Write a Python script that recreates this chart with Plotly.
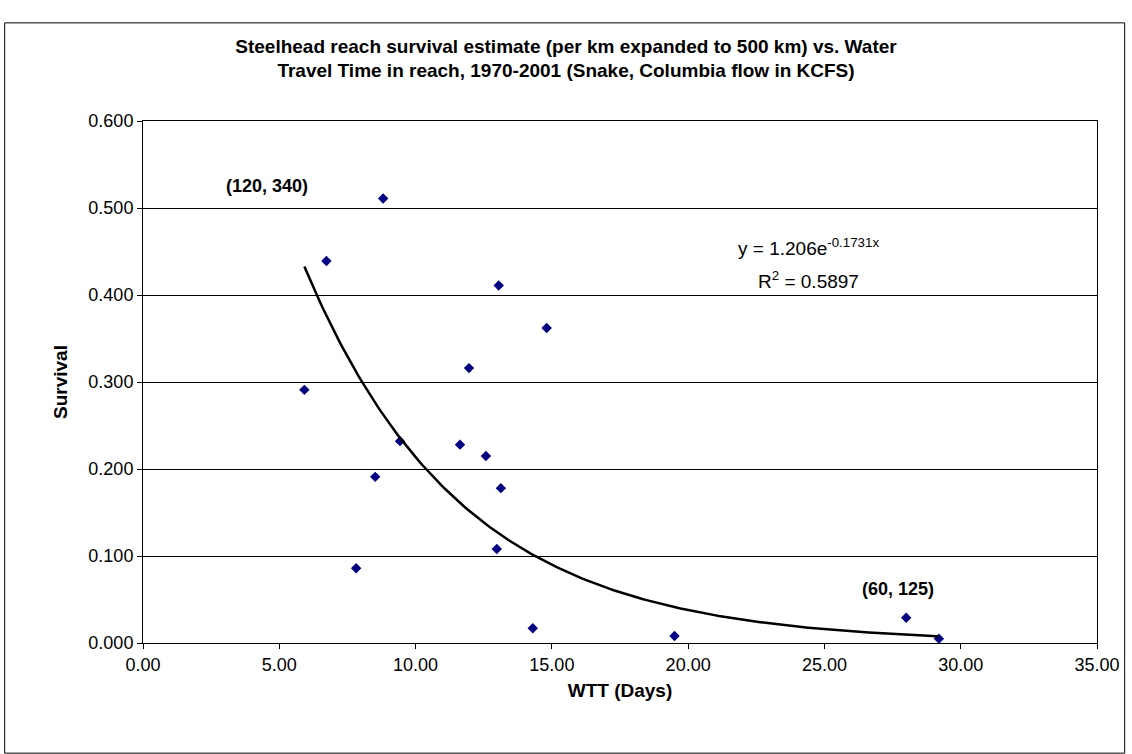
import numpy as np
import plotly.graph_objects as go

# observed points (WTT days, survival)
wtt = [5.92, 6.73, 8.81, 7.82, 8.52, 9.43, 11.63, 11.96, 12.58, 13.05, 13.13, 12.98, 14.81, 14.30, 19.50, 28.00, 29.20]
survival = [0.291, 0.439, 0.511, 0.086, 0.191, 0.232, 0.228, 0.316, 0.215, 0.411, 0.178, 0.108, 0.362, 0.017, 0.008, 0.029, 0.005]

# exponential trendline
a, b = 1.206, -0.1731
xt = np.linspace(min(wtt), max(wtt), 200)
yt = a * np.exp(b * xt)

fig = go.Figure()
fig.add_trace(go.Scatter(x=wtt, y=survival, mode='markers',
                         marker=dict(symbol='diamond', size=8, color='#000080'), showlegend=False))
fig.add_trace(go.Scatter(x=xt, y=yt, mode='lines', line=dict(color='black', width=2.5), showlegend=False))

ff = 'Arial'
fig.add_annotation(x=4.55, y=0.525, text='<b>(120, 340)</b>', showarrow=False, font=dict(family=ff, size=18, color='black'))
fig.add_annotation(x=27.7, y=0.062, text='<b>(60, 125)</b>', showarrow=False, font=dict(family=ff, size=18, color='black'))
fig.add_annotation(x=24.4, y=0.455, text='y = 1.206e<sup>-0.1731x</sup>', showarrow=False, font=dict(family=ff, size=19, color='black'))
fig.add_annotation(x=24.4, y=0.417, text='R<sup>2</sup> = 0.5897', showarrow=False, font=dict(family=ff, size=19, color='black'))

fig.update_layout(
    width=1132, height=754,
    paper_bgcolor='white', plot_bgcolor='white',
    margin=dict(l=143, r=32, t=121, b=111),
    font=dict(family=ff, size=18, color='black'),
    title=dict(text='<b>Steelhead reach survival estimate (per km expanded to 500 km) vs. Water<br>Travel Time in reach, 1970-2001 (Snake, Columbia flow in KCFS)</b>',
               x=0.5, xanchor='center', y=0.93, yanchor='middle', font=dict(family=ff, size=19, color='black')),
    shapes=[dict(type='rect', xref='paper', yref='paper', x0=-0.145, x1=1.029, y0=-0.211, y1=1.188,
                 line=dict(color='black', width=1))],
)
fig.update_xaxes(range=[0, 35], dtick=5, tickformat='.2f', showline=True, linecolor='black', mirror=True,
                 ticks='outside', tickcolor='black', showgrid=False, zeroline=False,
                 title=dict(text='<b>WTT (Days)</b>', font=dict(family=ff, size=19, color='black'), standoff=10))
fig.update_yaxes(range=[0, 0.6], dtick=0.1, tickformat='.3f', showline=True, linecolor='black', mirror=True,
                 ticks='outside', tickcolor='black', gridcolor='black', gridwidth=1, zeroline=False,
                 title=dict(text='<b>Survival</b>', font=dict(family=ff, size=19, color='black')))

fig.write_html("out.html", post_script="document.body.style.margin='0';",
               config={'displayModeBar': False})
